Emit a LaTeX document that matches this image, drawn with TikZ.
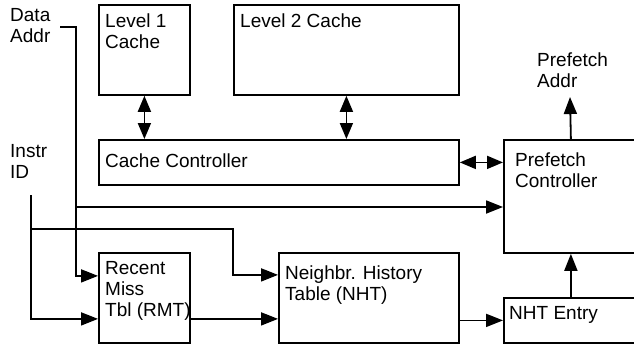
\documentclass[tikz,border=0pt]{standalone}
\usepackage{fontspec}
\setmainfont{Liberation Sans}
\usetikzlibrary{arrows.meta,calc}
\begin{document}
\begin{tikzpicture}[x=1pt,y=-1pt,
  box/.style={draw,line width=1.8pt,anchor=north west,inner sep=0pt},
  lbl/.style={anchor=north west,inner sep=0pt,align=left,font=\fontsize{19}{21}\selectfont},
  conn/.style={line width=1.8pt},
  arr/.style={conn,-{Triangle[length=17pt,width=13pt]}},
  dbl/.style={conn,{Triangle[length=16pt,width=13pt]}-{Triangle[length=16pt,width=13pt]}}]
\useasboundingbox (0,0) rectangle (634,343);
\clip (0,0) rectangle (634,343);
% boxes
\node[box,minimum width=91pt,minimum height=90pt] (l1) at (98,4) {};
\node[box,minimum width=225pt,minimum height=90pt] (l2) at (233,4) {};
\node[box,minimum width=360pt,minimum height=45pt] (cc) at (98,139) {};
\node[box,minimum width=134pt,minimum height=113pt] (pc) at (503,139) {};
\node[box,minimum width=91pt,minimum height=90pt] (rmt) at (98,252) {};
\node[box,minimum width=180pt,minimum height=90pt] (nht) at (278,252) {};
\node[box,minimum width=134pt,minimum height=45pt] (ne) at (503,297) {};
% texts
\node[lbl] (tda) at (10,8) {Data\\Addr};
\node[lbl] (tii) at (10,144) {Instr\\ID};
\node[lbl] (tl1) at (105,14) {Level 1\\Cache};
\node[lbl] (tl2) at (240,14) {Level 2 Cache};
\node[lbl] (tcc) at (105,154) {Cache Controller};
\node[lbl] (tpa) at (537,53) {Prefetch\\Addr};
\node[lbl] (tpc) at (515,153) {Prefetch\\Controller};
\node[lbl] (trmt) at (105,261) {Recent\\Miss\\Tbl (RMT)};
\node[lbl] (tnht) at (285,266) {Neighbr. History\\Table (NHT)};
\node[lbl] (tne) at (509,306) {NHT Entry};
% coordinates
\coordinate (da) at (60,27);
\coordinate (dj) at (76,207);
\coordinate (ii) at (31,195);
\coordinate (ij) at (31,229);
\coordinate (nk) at (233,229);
\coordinate (pa) at (570,97);
\coordinate (rin1) at ($(rmt.west)+(0,-22)$);
\coordinate (rin2) at ($(rmt.west)+(0,21)$);
\coordinate (nin1) at ($(nht.west)+(0,-23)$);
% connectors
\draw[dbl] (l1.south) -- (l1.south |- cc.north);
\draw[dbl] (l2.south) -- (l2.south |- cc.north);
\draw[dbl] (cc.east) -- (cc.east -| pc.west);
\draw[arr] (pc.north) -- (pa);
\draw[arr] (ne.north) -- (pc.south);
\draw[arr] (da) -| (dj) |- (rin1);
\draw[arr] (dj) -- (dj -| pc.west);
\draw[arr] (ii) |- (rin2);
\draw[arr] (ij) -- (nk) |- (nin1);
\draw[arr] (rin2 -| rmt.east) -- (rin2 -| nht.west);
\draw[arr] (nht.east |- ne.west) -- (ne.west);
\end{tikzpicture}
\end{document}
